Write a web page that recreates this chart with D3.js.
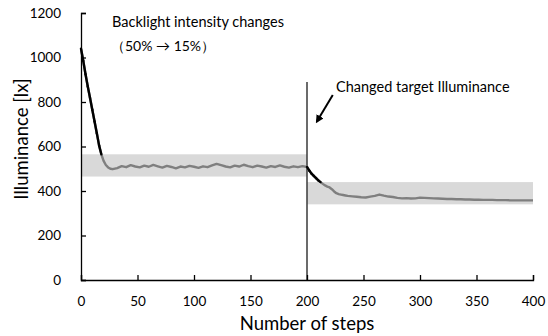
<!DOCTYPE html>
<html>
<head>
<meta charset="utf-8">
<script src="https://cdn.jsdelivr.net/npm/d3@7"></script>
<style>
  body { margin: 0; background: #fff; }
  svg { display: block; }
  text { font-family: Lato, "Open Sans", sans-serif; fill: #000; }
</style>
</head>
<body>
<script>
// measured illuminance, per step
const steps = [0, 2, 4, 6, 8, 10, 12, 14, 16, 18, 20, 22, 24, 26, 28,
  32, 36, 40, 44, 48, 52, 56, 60, 64, 68, 72, 76, 80, 84, 88, 92, 96, 100,
  104, 108, 112, 116, 120, 124, 128, 132, 136, 140, 144, 148, 152, 156, 160,
  164, 168, 172, 176, 180, 184, 188, 192, 196, 200,
  202, 204, 206, 208, 210, 212, 214, 216, 218, 220, 222, 224, 226, 228, 230, 232, 234, 236,
  240, 244, 248, 252, 256, 260, 264, 268, 272, 276, 280, 284, 288, 292, 296, 300,
  304, 308, 312, 316, 320, 324, 328, 332, 336, 340, 344, 348, 352, 356, 360,
  364, 368, 372, 376, 380, 384, 388, 392, 396, 400];
const lux = [1040, 985, 925, 870, 818, 765, 712, 660, 605, 565, 535, 517, 506, 500, 498,
  503, 512, 507, 516, 510, 506, 514, 509, 517, 511, 505, 513, 508, 502, 510, 506, 513, 509,
  504, 511, 507, 515, 522, 516, 510, 506, 514, 510, 518, 512, 507, 514, 510,
  505, 512, 508, 515, 509, 505, 511, 507, 512, 508,
  492, 478, 468, 458, 448, 440, 432, 425, 420, 416, 408, 398, 390, 386, 384, 382, 380, 378,
  376, 374, 372, 371, 375, 378, 384, 379, 375, 373, 369, 367, 368, 366, 367, 370,
  369, 368, 367, 366, 365, 364, 364, 363, 363, 362, 362, 361, 361, 360, 360,
  360, 359, 359, 359, 358, 358, 358, 358, 358, 358];

// target ranges
const bandStart = [0, 200];
const bandEnd = [200, 400];
const bandLow = [465, 340];
const bandHigh = [565, 440];

const xTicks = [0, 50, 100, 150, 200, 250, 300, 350, 400];
const yTicks = [0, 200, 400, 600, 800, 1000, 1200];

const W = 548, H = 336;
const margin = { top: 13, right: 15, bottom: 56, left: 81 };

const svg = d3.select('body').append('svg')
  .attr('width', W)
  .attr('height', H);

const x = d3.scaleLinear().domain([0, 400]).range([margin.left, W - margin.right]);
const y = d3.scaleLinear().domain([0, 1200]).range([H - margin.bottom, margin.top]);

// gray target bands
svg.selectAll('.band')
  .data(bandStart)
  .enter()
  .append('rect')
  .attr('class', 'band')
  .attr('x', (d, i) => x(bandStart[i]))
  .attr('width', (d, i) => x(bandEnd[i]) - x(bandStart[i]))
  .attr('y', (d, i) => y(bandHigh[i]))
  .attr('height', (d, i) => y(bandLow[i]) - y(bandHigh[i]))
  .attr('fill', '#d9d9d9');

// vertical marker at step 200
svg.append('line')
  .attr('x1', x(200)).attr('x2', x(200))
  .attr('y1', y(0)).attr('y2', y(890))
  .attr('stroke', '#3a3a3a')
  .attr('stroke-width', 1.5);

// line: black while out of target range, gray inside
const pts = steps.map((s, i) => ({ s: s, v: lux[i] }));
function bandOf(s) { return s <= 200 ? 0 : 1; }
const segs = [];
for (let i = 0; i < pts.length - 1; i++) {
  const b = bandOf(pts[i + 1].s);
  const out = pts[i].v > bandHigh[b] || pts[i].v < bandLow[b];
  segs.push({ a: pts[i], b: pts[i + 1], out: out });
}
const line = d3.line().x(d => x(d.s)).y(d => y(d.v));

svg.append('path')
  .attr('d', line(pts))
  .attr('fill', 'none')
  .attr('stroke', '#7f7f7f')
  .attr('stroke-width', 2.4)
  .attr('stroke-linejoin', 'round');

svg.selectAll('.seg')
  .data(segs.filter(d => d.out))
  .enter()
  .append('path')
  .attr('class', 'seg')
  .attr('d', d => line([d.a, d.b]))
  .attr('fill', 'none')
  .attr('stroke', '#000')
  .attr('stroke-width', 2.4)
  .attr('stroke-linecap', 'round');

// axes, ticks pointing inward
const xAxis = svg.append('g')
  .attr('transform', 'translate(0,' + y(0) + ')')
  .call(d3.axisBottom(x).tickValues(xTicks).tickFormat(d3.format('d'))
    .tickSizeInner(-5).tickSizeOuter(-5).tickPadding(16));
const yAxis = svg.append('g')
  .attr('transform', 'translate(' + x(0) + ',0)')
  .call(d3.axisLeft(y).tickValues(yTicks).tickFormat(d3.format('d'))
    .tickSizeInner(-5).tickSizeOuter(-5).tickPadding(20));

[xAxis, yAxis].forEach(g => {
  g.selectAll('path, line').attr('stroke', '#000').attr('stroke-width', 1.3);
  g.selectAll('text').attr('font-size', 13.5).attr('font-family', 'Lato, sans-serif');
});

// axis titles
svg.append('text')
  .attr('x', (x(0) + x(400)) / 2)
  .attr('y', 330)
  .attr('text-anchor', 'middle')
  .attr('font-size', 18.5)
  .text('Number of steps');

svg.append('text')
  .attr('transform', 'translate(28,' + 139 + ') rotate(-90)')
  .attr('text-anchor', 'middle')
  .attr('font-size', 18.5)
  .text('Illuminance [lx]');

// annotations
svg.append('text')
  .attr('x', 112).attr('y', 27)
  .attr('font-size', 14.5)
  .text('Backlight intensity changes');
svg.append('text')
  .attr('x', 111).attr('y', 51)
  .attr('font-size', 14)
  .text('（50% → 15%）');

svg.append('text')
  .attr('x', 336).attr('y', 92)
  .attr('font-size', 14.5)
  .text('Changed target Illuminance');

svg.append('defs').append('marker')
  .attr('id', 'arr')
  .attr('viewBox', '0 0 10 10')
  .attr('refX', 8).attr('refY', 5)
  .attr('markerWidth', 4).attr('markerHeight', 4)
  .attr('orient', 'auto')
  .append('path')
  .attr('d', 'M0,0 L10,5 L0,10 z')
  .attr('fill', '#000');

svg.append('line')
  .attr('x1', x(222.8)).attr('y1', y(831))
  .attr('x2', x(208.6)).attr('y2', y(711))
  .attr('stroke', '#000')
  .attr('stroke-width', 2)
  .attr('marker-end', 'url(#arr)');
</script>
</body>
</html>
